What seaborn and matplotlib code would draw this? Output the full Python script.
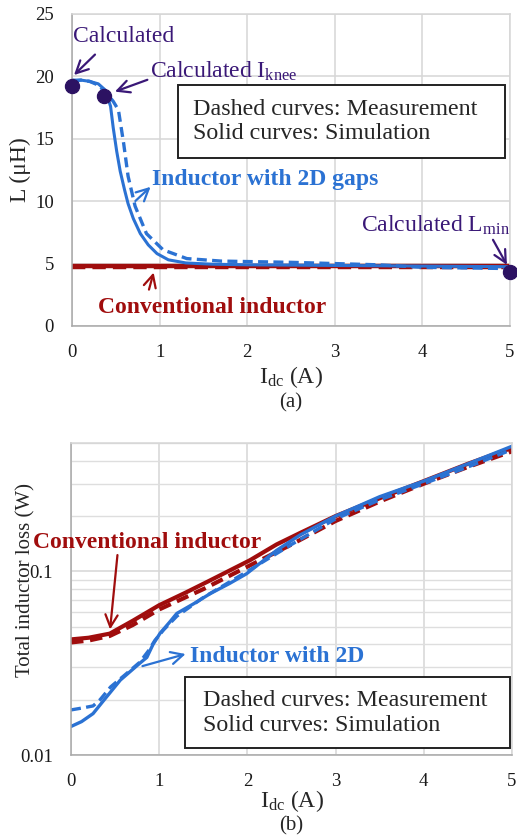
import matplotlib
matplotlib.use("Agg")
import matplotlib.pyplot as plt
import seaborn as sns
from matplotlib.patches import Rectangle
from matplotlib.ticker import LogLocator, NullFormatter

# (a) inductance vs dc current
a_gap_sim_x = [0, 0.1, 0.2, 0.3, 0.38, 0.44, 0.47, 0.51, 0.55, 0.6, 0.64, 0.7, 0.78, 0.87, 0.97, 1.1, 1.3, 1.6, 2.0, 3.0, 4.0, 5.0]
a_gap_sim_y = [19.7, 19.7, 19.6, 19.4, 18.9, 17.6, 15.9, 14.0, 12.4, 10.9, 9.8, 8.6, 7.4, 6.5, 5.8, 5.3, 5.05, 4.95, 4.9, 4.85, 4.8, 4.75]
a_gap_meas_x = [0, 0.1, 0.2, 0.3, 0.4, 0.47, 0.53, 0.59, 0.64, 0.72, 0.85, 1.04, 1.31, 1.7, 2.5, 3.5, 4.0, 4.5, 5.0]
a_gap_meas_y = [19.6, 19.7, 19.6, 19.3, 18.6, 18.0, 17.3, 14.6, 12.0, 9.6, 7.4, 6.1, 5.4, 5.2, 5.1, 4.9, 4.7, 4.65, 4.6]
a_conv_sim_x = [0, 1, 2, 3, 4, 5]
a_conv_sim_y = [4.8, 4.8, 4.8, 4.8, 4.8, 4.8]
a_conv_meas_x = [0, 1, 2, 3, 4, 5]
a_conv_meas_y = [4.7, 4.7, 4.7, 4.7, 4.7, 4.7]
calc_x = [0, 0.36, 5]
calc_y = [19.2, 18.4, 4.3]

# (b) total loss vs dc current
b_conv_sim_x = [0, 0.2, 0.44, 0.7, 1.0, 1.3, 1.58, 2.03, 2.33, 2.6, 3.0, 3.5, 4.0, 4.5, 5.0]
b_conv_sim_y = [0.0426, 0.0435, 0.0458, 0.0538, 0.0654, 0.0766, 0.0894, 0.115, 0.14, 0.162, 0.2, 0.25, 0.31, 0.385, 0.47]
b_conv_meas_x = [0, 0.2, 0.44, 0.7, 1.0, 1.5, 2.0, 2.5, 3.0, 3.5, 4.0, 4.5, 5.0]
b_conv_meas_y = [0.041, 0.042, 0.0445, 0.051, 0.062, 0.08, 0.106, 0.14, 0.188, 0.24, 0.3, 0.37, 0.45]
b_gap_sim_x = [0, 0.12, 0.25, 0.37, 0.56, 0.78, 0.86, 0.93, 1.01, 1.12, 1.2, 1.4, 1.58, 1.8, 1.99, 2.33, 2.6, 3.0, 3.5, 4.0, 4.5, 5.0]
b_gap_sim_y = [0.0143, 0.0152, 0.0168, 0.0198, 0.0256, 0.0316, 0.034, 0.040, 0.046, 0.053, 0.059, 0.067, 0.0757, 0.086, 0.097, 0.13, 0.158, 0.2, 0.255, 0.31, 0.385, 0.48]
b_gap_meas_x = [0, 0.12, 0.25, 0.33, 0.45, 0.6, 0.78, 0.88, 0.95, 1.05, 1.2, 1.5, 2.0, 2.5, 3.0, 3.5, 4.0, 4.5, 5.0]
b_gap_meas_y = [0.0176, 0.018, 0.0185, 0.02, 0.0235, 0.027, 0.032, 0.037, 0.042, 0.048, 0.057, 0.072, 0.1, 0.14, 0.193, 0.245, 0.3, 0.37, 0.46]

x_ticks = [0, 1, 2, 3, 4, 5]
a_y_ticks = [0, 5, 10, 15, 20, 25]
box_text = 'Dashed curves: Measurement\nSolid curves: Simulation'

BLUE = "#2b72d3"
RED = "#a00d0d"
PURPLE = "#3a1877"
DOT = "#2c1262"

sns.set_style("whitegrid")
plt.rcParams['font.family'] = ['Liberation Serif', 'DejaVu Serif']
plt.rcParams['mathtext.fontset'] = 'custom'
plt.rcParams['mathtext.rm'] = 'Liberation Serif'
plt.rcParams['mathtext.it'] = 'Liberation Serif:italic'

fig = plt.figure(figsize=(5.17, 8.35), dpi=100)
ax1 = fig.add_axes([0.1393, 0.6096, 0.8472, 0.3737])
ax2 = fig.add_axes([0.1373, 0.0958, 0.853, 0.3737])


def style(ax):
    ax.grid(True, which='major', color='#d6d6d6', lw=1.1)
    for s in ax.spines.values():
        s.set_color('#d6d6d6')
        s.set_linewidth(1.1)
    ax.spines['left'].set_color('#a8a8a8')
    ax.spines['bottom'].set_color('#a8a8a8')
    ax.tick_params(length=0, labelsize=13.5, pad=13, colors='#1a1a1a')


def line(ax, x, y, color, dashed, lw):
    sns.lineplot(x=x, y=y, ax=ax, color=color, lw=lw, sort=False, estimator=None,
                 linestyle=(0, (3, 1.6)) if dashed else '-')


def note_box(ax, x0, y0, x1, y1, tx, ty):
    ax.add_patch(Rectangle((x0, y0), x1 - x0, y1 - y0, fc='white', ec='#222222',
                           lw=1.4, zorder=6))
    ax.text(tx, ty, box_text, fontsize=17.3, ha='left', va='center',
            linespacing=1.22, zorder=7)


# ---- (a) ----
style(ax1)
line(ax1, a_conv_sim_x, a_conv_sim_y, RED, False, 3.2)
line(ax1, a_conv_meas_x, a_conv_meas_y, RED, True, 3.2)
line(ax1, a_gap_sim_x, a_gap_sim_y, BLUE, False, 2.2)
line(ax1, a_gap_meas_x, a_gap_meas_y, BLUE, True, 2.4)
sns.scatterplot(x=calc_x, y=calc_y, ax=ax1, color=DOT, s=105, edgecolor=DOT, zorder=5, clip_on=False)
ax1.set_xlim(0, 5)
ax1.set_ylim(0, 25)
ax1.set_xticks(x_ticks)
ax1.set_yticks(a_y_ticks)
ax1.set_xlabel(r'I$_{\mathrm{dc}}$ (A)', fontsize=17)
ax1.set_ylabel('L (μH)', fontsize=17)
ax1.xaxis.set_label_coords(0.5, -0.122)
ax1.yaxis.set_label_coords(-0.094, 0.5)

arr = dict(arrowstyle='->', lw=1.6, mutation_scale=22)
ax1.text(0.01, 23.2, 'Calculated', color=PURPLE, fontsize=17, va='center', ha='left')
ax1.annotate('', xy=(0.0, 19.95), xytext=(0.285, 21.9), arrowprops=dict(arr, color=PURPLE))
ax1.text(0.89, 20.4, r'Calculated I$_{\mathrm{knee}}$', color=PURPLE, fontsize=17, va='center', ha='left')
ax1.annotate('', xy=(0.46, 18.7), xytext=(0.89, 19.8), arrowprops=dict(arr, color=PURPLE))
ax1.text(5.0, 8.1, r'Calculated L$_{\mathrm{min}}$', color=PURPLE, fontsize=17, va='center', ha='right')
ax1.annotate('', xy=(4.98, 4.7), xytext=(4.79, 7.1), arrowprops=dict(arr, color=PURPLE))
ax1.text(0.91, 11.7, 'Inductor with 2D gaps', color=BLUE, fontsize=17, fontweight='bold', va='center', ha='left')
ax1.annotate('', xy=(0.92, 11.3), xytext=(0.70, 9.86), arrowprops=dict(arr, color=BLUE))
ax1.text(0.30, 1.5, 'Conventional inductor', color=RED, fontsize=17, fontweight='bold', va='center', ha='left')
ax1.annotate('', xy=(0.94, 4.5), xytext=(0.87, 2.7), arrowprops=dict(arr, color=RED))
note_box(ax1, 1.21, 13.46, 4.94, 19.31, 1.38, 16.4)

# ---- (b) ----
style(ax2)
ax2.set_yscale('log')
line(ax2, b_conv_sim_x, b_conv_sim_y, RED, False, 3.0)
line(ax2, b_conv_meas_x, b_conv_meas_y, RED, True, 3.0)
line(ax2, b_gap_sim_x, b_gap_sim_y, BLUE, False, 2.4)
line(ax2, b_gap_meas_x, b_gap_meas_y, BLUE, True, 2.4)
ax2.set_xlim(0, 5)
ax2.set_ylim(0.01, 0.5)
ax2.set_xticks(x_ticks)
ax2.set_yticks([0.01, 0.1])
ax2.set_yticklabels(['0.01', '0.1'])
ax2.yaxis.set_minor_locator(LogLocator(base=10, subs=[2, 3, 4, 5, 6, 7, 8, 9]))
ax2.yaxis.set_minor_formatter(NullFormatter())
ax2.tick_params(which='minor', length=0)
ax2.grid(True, which='minor', axis='y', color='#dedede', lw=1.0)
ax2.set_xlabel(r'I$_{\mathrm{dc}}$ (A)', fontsize=17)
ax2.set_ylabel('Total inductor loss (W)', fontsize=15)
ax2.xaxis.set_label_coords(0.5, -0.105)
ax2.yaxis.set_label_coords(-0.080, 0.56)

ax2.text(-0.43, 0.144, 'Conventional inductor', color=RED, fontsize=17, fontweight='bold', va='center', ha='left')
ax2.annotate('', xy=(0.44, 0.0466), xytext=(0.53, 0.127), arrowprops=dict(arr, color=RED))
ax2.text(1.35, 0.0342, 'Inductor with 2D', color=BLUE, fontsize=17, fontweight='bold', va='center', ha='left')
ax2.annotate('', xy=(1.33, 0.0358), xytext=(0.78, 0.0302), arrowprops=dict(arr, color=BLUE))
note_box(ax2, 1.29, 0.01091, 4.98, 0.02665, 1.50, 0.0169)

fig.text(0.563, 0.517, '(a)', fontsize=15, ha='center', va='center')
fig.text(0.563, 0.011, '(b)', fontsize=15, ha='center', va='center')

fig.savefig('out.png', dpi=100)
